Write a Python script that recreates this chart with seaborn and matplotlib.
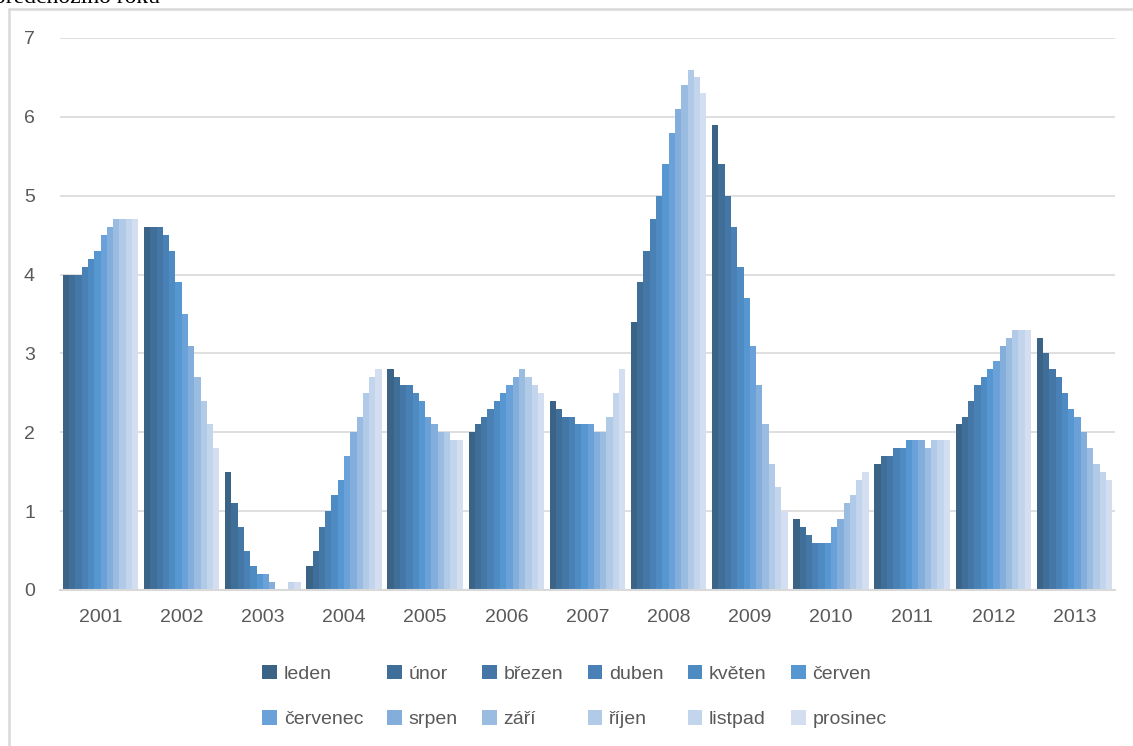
import numpy as np
import pandas as pd
import matplotlib
matplotlib.use("Agg")
import matplotlib.pyplot as plt
import seaborn as sns
from matplotlib.lines import Line2D

years = ["2001", "2002", "2003", "2004", "2005", "2006", "2007",
         "2008", "2009", "2010", "2011", "2012", "2013"]
months = ["leden", "únor", "březen", "duben", "květen", "červen",
          "červenec", "srpen", "září", "říjen", "listpad", "prosinec"]

v2001 = [4.0, 4.0, 4.0, 4.1, 4.2, 4.3, 4.5, 4.6, 4.7, 4.7, 4.7, 4.7]
v2002 = [4.6, 4.6, 4.6, 4.5, 4.3, 3.9, 3.5, 3.1, 2.7, 2.4, 2.1, 1.8]
v2003 = [1.5, 1.1, 0.8, 0.5, 0.3, 0.2, 0.2, 0.1, 0.0, 0.0, 0.1, 0.1]
v2004 = [0.3, 0.5, 0.8, 1.0, 1.2, 1.4, 1.7, 2.0, 2.2, 2.5, 2.7, 2.8]
v2005 = [2.8, 2.7, 2.6, 2.6, 2.5, 2.4, 2.2, 2.1, 2.0, 2.0, 1.9, 1.9]
v2006 = [2.0, 2.1, 2.2, 2.3, 2.4, 2.5, 2.6, 2.7, 2.8, 2.7, 2.6, 2.5]
v2007 = [2.4, 2.3, 2.2, 2.2, 2.1, 2.1, 2.1, 2.0, 2.0, 2.2, 2.5, 2.8]
v2008 = [3.4, 3.9, 4.3, 4.7, 5.0, 5.4, 5.8, 6.1, 6.4, 6.6, 6.5, 6.3]
v2009 = [5.9, 5.4, 5.0, 4.6, 4.1, 3.7, 3.1, 2.6, 2.1, 1.6, 1.3, 1.0]
v2010 = [0.9, 0.8, 0.7, 0.6, 0.6, 0.6, 0.8, 0.9, 1.1, 1.2, 1.4, 1.5]
v2011 = [1.6, 1.7, 1.7, 1.8, 1.8, 1.9, 1.9, 1.9, 1.8, 1.9, 1.9, 1.9]
v2012 = [2.1, 2.2, 2.4, 2.6, 2.7, 2.8, 2.9, 3.1, 3.2, 3.3, 3.3, 3.3]
v2013 = [3.2, 3.0, 2.8, 2.7, 2.5, 2.3, 2.2, 2.0, 1.8, 1.6, 1.5, 1.4]

all_vals = [v2001, v2002, v2003, v2004, v2005, v2006, v2007,
            v2008, v2009, v2010, v2011, v2012, v2013]

colors = ["#3B6386", "#3F6E98", "#4477A6", "#4981B6", "#4F8BC3", "#5797D1",
          "#6AA1D8", "#83AEDC", "#9BBCE1", "#B0CAE7", "#C3D5EC", "#D3DFF0"]

rows = []
for y, vals in zip(years, all_vals):
    for m, v in zip(months, vals):
        rows.append({"rok": y, "měsíc": m, "hodnota": v})
df = pd.DataFrame(rows)

sns.set_style("white")
plt.rcParams['font.family'] = ['Liberation Sans', 'DejaVu Sans']

W, H = 1133, 746
fig = plt.figure(figsize=(W / 100, H / 100), dpi=100)
ax = fig.add_axes([60 / W, 1 - 590 / H, (1115 - 60) / W, (590 - 38) / H])

sns.barplot(data=df, x="rok", y="hodnota", hue="měsíc", hue_order=months,
            order=years, palette=colors, width=0.93, gap=0, ax=ax,
            saturation=1, linewidth=0, errorbar=None, legend=False)

ax.set_ylim(0, 7)
ax.set_xlim(-0.5, len(years) - 0.5)
ax.set_yticks(range(0, 8))
ax.yaxis.grid(True, color="#D9D9D9", linewidth=1.2)
ax.set_axisbelow(True)
for s in ["top", "right", "left"]:
    ax.spines[s].set_visible(False)
ax.spines["bottom"].set_color("#D9D9D9")
ax.spines["bottom"].set_linewidth(1.5)
ax.tick_params(axis="both", length=0, labelsize=14, labelcolor="#595959")
ax.tick_params(axis="y", pad=18)
ax.tick_params(axis="x", pad=14)
ax.set_xlabel("")
ax.set_ylabel("")

# legend in row-major order (matplotlib fills columns first)
handles = [plt.Rectangle((0, 0), 1, 1, facecolor=c, edgecolor="none") for c in colors]
order = []
for col in range(6):
    order += [col, col + 6]
leg = fig.legend([handles[i] for i in order], [months[i] for i in order],
                 ncol=6, loc="center",
                 bbox_to_anchor=(0.507, 0.066), frameon=False,
                 fontsize=14, labelcolor="#595959",
                 handlelength=0.75, handleheight=0.75, handletextpad=0.35,
                 columnspacing=1.25, labelspacing=1.4)

# chart frame (left and top border)
fig.add_artist(Line2D([8.5 / W, 8.5 / W], [0, 1 - 9 / H], transform=fig.transFigure,
                      color="#D9D9D9", linewidth=1.8))
fig.add_artist(Line2D([8.5 / W, 1], [1 - 9 / H, 1 - 9 / H], transform=fig.transFigure,
                      color="#D9D9D9", linewidth=1.8))

# title text partly above the visible area, as in the reference
fig.text(-6 / W, 1 - 3 / H, "předchozího roku", family=["Liberation Serif", "DejaVu Serif"],
         fontsize=17, color="#000000", va="baseline", ha="left")

fig.savefig("out.png", dpi=100)
